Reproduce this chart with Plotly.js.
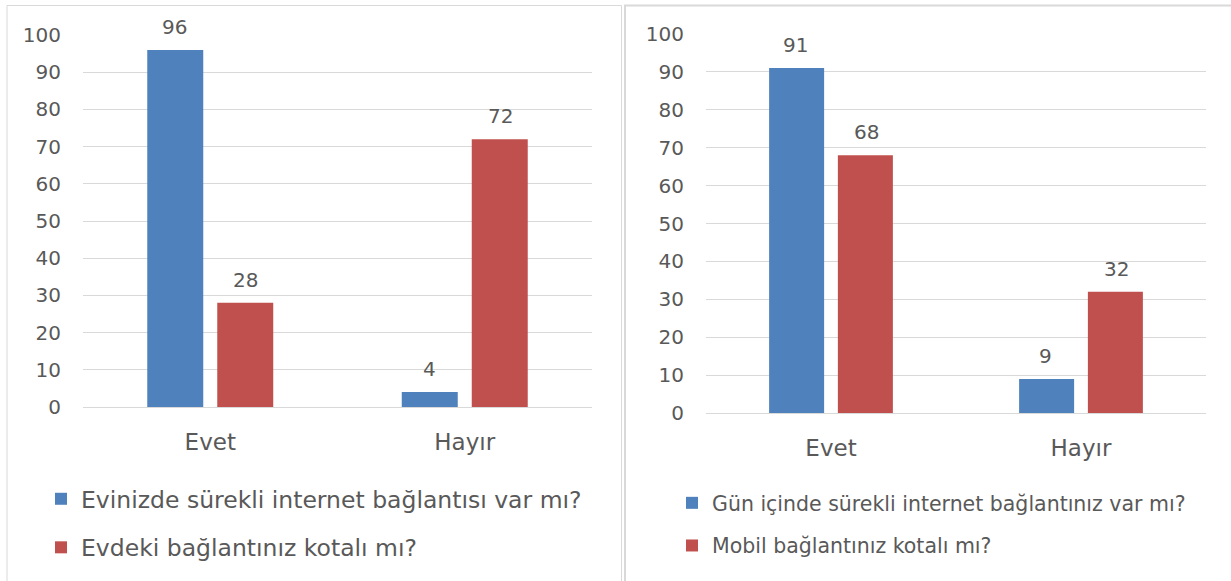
<!DOCTYPE html>
<html>
<head>
<meta charset="utf-8">
<script src="https://cdn.plot.ly/plotly-3.0.1.min.js"></script>
<style>html,body{margin:0;padding:0;background:#fff;}#chart{width:1231px;height:581px;}</style>
</head>
<body>
<div id="chart"></div>
<script>
const categories = ['Evet', 'Hayır'];
const leftName1 = 'Evinizde sürekli internet bağlantısı var mı?';
const leftValues1 = [96, 4];
const leftName2 = 'Evdeki bağlantınız kotalı mı?';
const leftValues2 = [28, 72];
const rightName1 = 'Gün içinde sürekli internet bağlantınız var mı?';
const rightValues1 = [91, 9];
const rightName2 = 'Mobil bağlantınız kotalı mı?';
const rightValues2 = [68, 32];
const yTickValues = [0, 10, 20, 30, 40, 50, 60, 70, 80, 90, 100];

const W = 1231, H = 581;
const BLUE = '#4f81bd', RED = '#c0504d';
const TXT = '#595959', GRID = '#d9d9d9';
const FONT = 'DejaVu Sans, Liberation Sans, sans-serif';

function px2x(p) { return p / W; }
function px2y(p) { return (H - p) / H; }

const traces = [
  {type: 'bar', x: categories, y: leftValues1, name: leftName1, marker: {color: BLUE}, xaxis: 'x', yaxis: 'y', legend: 'legend', legendgroup: 'a1'},
  {type: 'bar', x: categories, y: leftValues2, name: leftName2, marker: {color: RED}, xaxis: 'x', yaxis: 'y', legend: 'legend', legendgroup: 'a2'},
  {type: 'bar', x: categories, y: rightValues1, name: rightName1, marker: {color: BLUE}, xaxis: 'x2', yaxis: 'y2', legend: 'legend2', legendgroup: 'b1'},
  {type: 'bar', x: categories, y: rightValues2, name: rightName2, marker: {color: RED}, xaxis: 'x2', yaxis: 'y2', legend: 'legend2', legendgroup: 'b2'}
];
traces.forEach(t => { t.hoverinfo = 'none'; });

const annotations = [];
function addLabels(vals, xa, ya, shift) {
  vals.forEach((v, i) => {
    annotations.push({x: categories[i], y: v, xref: xa, yref: ya, text: String(v), showarrow: false,
      xshift: shift, yshift: 9, yanchor: 'bottom', font: {family: FONT, size: 20, color: TXT}});
  });
}
addLabels(leftValues1, 'x', 'y', -35.5);
addLabels(leftValues2, 'x', 'y', 35.5);
addLabels(rightValues1, 'x2', 'y2', -35.5);
addLabels(rightValues2, 'x2', 'y2', 35.5);

const yaxisBase = {range: [0, 100], tickvals: yTickValues, showgrid: true, gridcolor: GRID, gridwidth: 1,
  zeroline: true, zerolinecolor: GRID, zerolinewidth: 1, showline: false,
  ticks: 'outside', ticklen: 17, tickcolor: 'rgba(0,0,0,0)',
  tickfont: {family: FONT, size: 20, color: TXT}, fixedrange: true};
const xaxisBase = {showgrid: false, zeroline: false, showline: false, ticks: 'outside', ticklen: 14,
  tickcolor: 'rgba(0,0,0,0)', tickfont: {family: FONT, size: 23, color: TXT}, fixedrange: true};

const layout = {
  width: W, height: H,
  margin: {l: 0, r: 0, t: 0, b: 0},
  paper_bgcolor: '#fff', plot_bgcolor: '#fff',
  barmode: 'group', bargap: 0.45, bargroupgap: 0.2,
  font: {family: FONT, color: TXT},
  showlegend: true,
  xaxis: Object.assign({}, xaxisBase, {domain: [px2x(83), px2x(592)], anchor: 'y'}),
  yaxis: Object.assign({}, yaxisBase, {domain: [px2y(407), px2y(35)], anchor: 'x'}),
  xaxis2: Object.assign({}, xaxisBase, {domain: [px2x(706), px2x(1206)], anchor: 'y2'}),
  yaxis2: Object.assign({}, yaxisBase, {domain: [px2y(413), px2y(34)], anchor: 'x2'}),
  legend: {x: px2x(41), y: px2y(477), xanchor: 'left', yanchor: 'top', orientation: 'v',
    font: {family: FONT, size: 23.5, color: TXT}, tracegroupgap: 15, traceorder: 'grouped', bgcolor: 'rgba(0,0,0,0)'},
  legend2: {x: px2x(672), y: px2y(483), xanchor: 'left', yanchor: 'top', orientation: 'v',
    font: {family: FONT, size: 20.5, color: TXT}, tracegroupgap: 13, traceorder: 'grouped', bgcolor: 'rgba(0,0,0,0)'},
  annotations: annotations,
  shapes: [
    {type: 'rect', xref: 'paper', yref: 'paper', x0: px2x(7), x1: px2x(621.5), y0: -0.1, y1: px2y(5.5),
      line: {color: GRID, width: 1}, fillcolor: 'rgba(0,0,0,0)', layer: 'below'},
    {type: 'rect', xref: 'paper', yref: 'paper', x0: px2x(625), x1: 1.1, y0: -0.1, y1: px2y(5.5),
      line: {color: GRID, width: 2}, fillcolor: 'rgba(0,0,0,0)', layer: 'below'}
  ]
};

Plotly.newPlot('chart', traces, layout, {displayModeBar: false, staticPlot: true});
</script>
</body>
</html>
